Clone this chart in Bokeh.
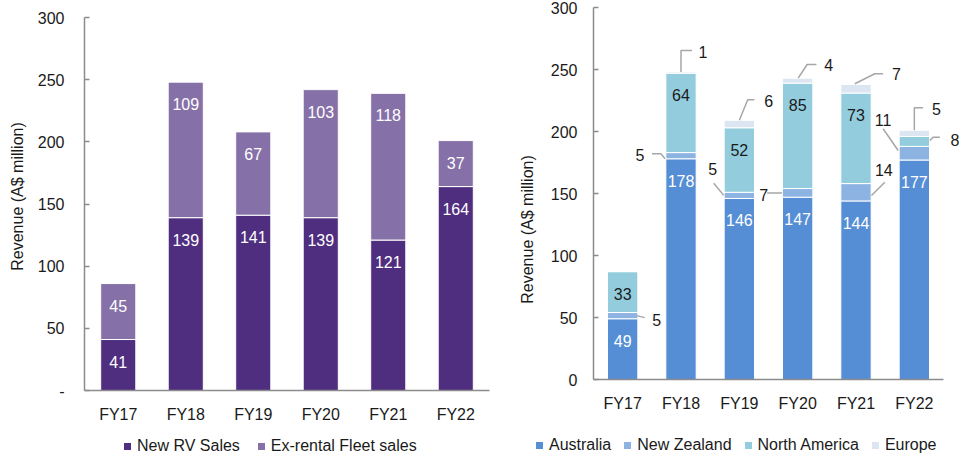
import math
from bokeh.plotting import figure
from bokeh.models import (Range1d, FixedTicker, ColumnDataSource, LabelSet, Label,
                          Legend, LegendItem)
from bokeh.layouts import row
from bokeh.embed import file_html
from bokeh.resources import INLINE
from bokeh.core.properties import value

# ---------------- data ----------------
categories = ["FY17", "FY18", "FY19", "FY20", "FY21", "FY22"]

# left chart (A$ million)
new_rv_sales = [41, 139, 141, 139, 121, 164]
ex_rental_fleet_sales = [45, 109, 67, 103, 118, 37]

# right chart (A$ million)
australia = [49, 178, 146, 147, 144, 177]
new_zealand = [5, 5, 5, 7, 14, 11]
north_america = [33, 64, 52, 85, 73, 8]
europe = [0, 1, 6, 4, 7, 5]

y_ticks = [0, 50, 100, 150, 200, 250, 300]
left_tick_labels = ["-", "50", "100", "150", "200", "250", "300"]
right_tick_labels = ["0", "50", "100", "150", "200", "250", "300"]
y_label = "Revenue (A$ million)"

# ---------------- styles ----------------
FONT = "'Liberation Sans', Arial, sans-serif"
FS = "16px"
TEXT = "#1a1a1a"
AXIS = "#8c8c8c"
LEADER = "#a6a6a6"
C_NEW_RV = "#4f2d7f"
C_EX_RENTAL = "#8670a8"
C_AUS = "#558ed5"
C_NZ = "#8db3e2"
C_NA = "#93cddd"
C_EU = "#dce6f2"
Y_MAX = 300
N = len(categories)
BAR_W = 0.52
LABEL_DROP = 22  # px below segment top for inside labels

xc = [i + 0.5 for i in range(N)]


def make_fig(width, height, x0_px, ppc, y300_px, y0_px, tick_labels, y_standoff, x_standoff):
    """Frame fills the whole canvas; axes are pinned at 0 with fixed_location."""
    ppu = (y0_px - y300_px) / Y_MAX
    x_range = Range1d(-x0_px / ppc, (width - x0_px) / ppc)
    y_range = Range1d(-(height - y0_px) / ppu, Y_MAX + y300_px / ppu)
    p = figure(width=width, height=height, x_range=x_range, y_range=y_range,
               output_backend="svg", toolbar_location=None,
               min_border_left=0, min_border_right=0, min_border_top=0, min_border_bottom=0)
    p.outline_line_color = None
    p.grid.visible = False
    xa = p.xaxis[0]
    xa.fixed_location = 0
    xa.bounds = (0, N)
    xa.ticker = FixedTicker(ticks=xc)
    xa.major_label_overrides = {x: c for x, c in zip(xc, categories)}
    xa.major_tick_line_color = None
    xa.minor_tick_line_color = None
    xa.axis_line_color = AXIS
    xa.axis_line_width = 1.5
    xa.major_label_standoff = x_standoff
    ya = p.yaxis[0]
    ya.fixed_location = 0
    ya.bounds = (0, Y_MAX)
    ya.ticker = FixedTicker(ticks=y_ticks)
    ya.major_label_overrides = {t: l for t, l in zip(y_ticks, tick_labels)}
    ya.major_tick_in = 5
    ya.major_tick_out = 0
    ya.minor_tick_line_color = None
    ya.major_tick_line_color = AXIS
    ya.major_tick_line_width = 1.5
    ya.axis_line_color = AXIS
    ya.axis_line_width = 1.5
    ya.major_label_standoff = y_standoff
    for ax in (xa, ya):
        ax.major_label_text_font = FONT
        ax.major_label_text_font_size = FS
        ax.major_label_text_color = TEXT
    return p, ppu


def make_legend(items, x, y, spacing):
    return Legend(items=items, orientation="horizontal", location=(x, y),
                  glyph_width=10, glyph_height=10, label_standoff=5, spacing=spacing,
                  padding=0, margin=0, border_line_color=None,
                  background_fill_alpha=0, label_text_font=FONT, label_text_font_size=FS,
                  label_text_color=TEXT, label_height=20)


def y_title(x, y):
    return Label(x=x, y=y, text=y_label, angle=math.pi / 2, text_align="center",
                 text_baseline="middle", text_font=FONT, text_font_size=FS, text_color=TEXT)


# ================= LEFT CHART =================
LW, LH = 490, 456
ppc_l = 67.5
pl, ppu_l = make_fig(LW, LH, 84, ppc_l, 17, 390, left_tick_labels, 20, 9)

src_l = ColumnDataSource(dict(x=xc, new=new_rv_sales, ex=ex_rental_fleet_sales))
rl = pl.vbar_stack(["new", "ex"], x="x", width=BAR_W, source=src_l,
                   fill_color=[C_NEW_RV, C_EX_RENTAL], line_color="white", line_width=1)

lab_x, lab_y, lab_t = [], [], []
for i in range(N):
    t1 = new_rv_sales[i]
    t2 = t1 + ex_rental_fleet_sales[i]
    lab_x += [xc[i], xc[i]]
    lab_y += [t1 - LABEL_DROP / ppu_l, t2 - LABEL_DROP / ppu_l]
    lab_t += [str(new_rv_sales[i]), str(ex_rental_fleet_sales[i])]
pl.add_layout(LabelSet(x="x", y="y", text="t",
                       source=ColumnDataSource(dict(x=lab_x, y=lab_y, t=lab_t)),
                       text_align="center", text_baseline="middle", text_color="white",
                       text_font=value(FONT), text_font_size=FS))

pl.add_layout(y_title(-67 / ppc_l, 194 / ppu_l))
pl.add_layout(make_legend([LegendItem(label="New RV Sales", renderers=[rl[0]]),
                           LegendItem(label="Ex-rental Fleet sales", renderers=[rl[1]])],
                          122, 0, 16))

# ================= RIGHT CHART =================
RW, RH = 469, 456
ppc_r = 350 / N
pr, ppu_r = make_fig(RW, RH, 103, ppc_r, 7, 379, right_tick_labels, 16, 9)

src_r = ColumnDataSource(dict(x=xc, aus=australia, nz=new_zealand, na=north_america, eu=europe))
rr = pr.vbar_stack(["aus", "nz", "na", "eu"], x="x", width=BAR_W, source=src_r,
                   fill_color=[C_AUS, C_NZ, C_NA, C_EU], line_color="white", line_width=1)

lab_x, lab_y, lab_t, lab_c = [], [], [], []
for i in range(N):
    top_aus = australia[i]
    top_na = australia[i] + new_zealand[i] + north_america[i]
    lab_x.append(xc[i]); lab_y.append(top_aus - LABEL_DROP / ppu_r)
    lab_t.append(str(australia[i])); lab_c.append("white")
    if north_america[i] >= 20:
        lab_x.append(xc[i]); lab_y.append(top_na - LABEL_DROP / ppu_r)
        lab_t.append(str(north_america[i])); lab_c.append(TEXT)
pr.add_layout(LabelSet(x="x", y="y", text="t", text_color="c",
                       source=ColumnDataSource(dict(x=lab_x, y=lab_y, t=lab_t, c=lab_c)),
                       text_align="center", text_baseline="middle",
                       text_font=value(FONT), text_font_size=FS))

# callouts: (category index, segment, leader points px offsets, text px offset)
CALLOUTS = [
    (0, "nz", [(14, 0), (22, -2)], (34, -4)),
    (1, "nz", [(-16, -3), (-20, 2), (-29, 2)], (-41, 1)),
    (1, "eu", [(0, 0), (0, 21.5), (11, 21.5)], (22, 20)),
    (2, "nz", [(-15.6, 0), (-25.6, 12.2)], (-26.6, 26.6)),
    (2, "eu", [(0, 0), (8.4, 20.5), (15, 20.5)], (29.4, 19.1)),
    (3, "nz", [(-15.5, 0), (-30.5, 0)], (-34, -2.6)),
    (3, "eu", [(0.5, 0), (9.5, 13.7), (18.8, 13.7)], (31, 12.7)),
    (4, "nz", [(15.5, -3.2), (28.8, 10.1)], (27.8, 21.8)),
    (4, "eu", [(-1.2, 0.6), (18.8, 10.6), (27.1, 10.6)], (40.5, 10.6)),
    (5, "nz", [(-16.2, 2.7), (-31.2, 24.4)], (-31.2, 33.4)),
    (5, "na", [(15.5, 0.9), (18.8, 4.2), (25.5, 4.2)], (40.5, 1.9)),
    (5, "eu", [(0, 0), (0, 22.5), (8.8, 22.5)], (22.2, 21.5)),
]
series = {"nz": new_zealand, "na": north_america, "eu": europe}
anchor = {
    "nz": [australia[i] + new_zealand[i] / 2 for i in range(N)],
    "na": [australia[i] + new_zealand[i] + north_america[i] / 2 for i in range(N)],
    "eu": [australia[i] + new_zealand[i] + north_america[i] + europe[i] for i in range(N)],
}
lxs, lys, cx, cy, ct = [], [], [], [], []
for i, key, pts, tpos in CALLOUTS:
    ax, ay = xc[i], anchor[key][i]
    lxs.append([ax + dx / ppc_r for dx, dy in pts])
    lys.append([ay + dy / ppu_r for dx, dy in pts])
    cx.append(ax + tpos[0] / ppc_r)
    cy.append(ay + tpos[1] / ppu_r)
    ct.append(str(series[key][i]))
pr.multi_line(lxs, lys, line_color=LEADER, line_width=1.5)
pr.add_layout(LabelSet(x="x", y="y", text="t",
                       source=ColumnDataSource(dict(x=cx, y=cy, t=ct)),
                       text_align="center", text_baseline="middle", text_color=TEXT,
                       text_font=value(FONT), text_font_size=FS))

pr.add_layout(y_title(-66 / ppc_r, 150 / ppu_r))
pr.add_layout(make_legend([LegendItem(label="Australia", renderers=[rr[0]]),
                           LegendItem(label="New Zealand", renderers=[rr[1]]),
                           LegendItem(label="North America", renderers=[rr[2]]),
                           LegendItem(label="Europe", renderers=[rr[3]])],
                          44, 1, 11))

layout = row(pl, pr)
open("out.html", "w").write(file_html(layout, INLINE))
